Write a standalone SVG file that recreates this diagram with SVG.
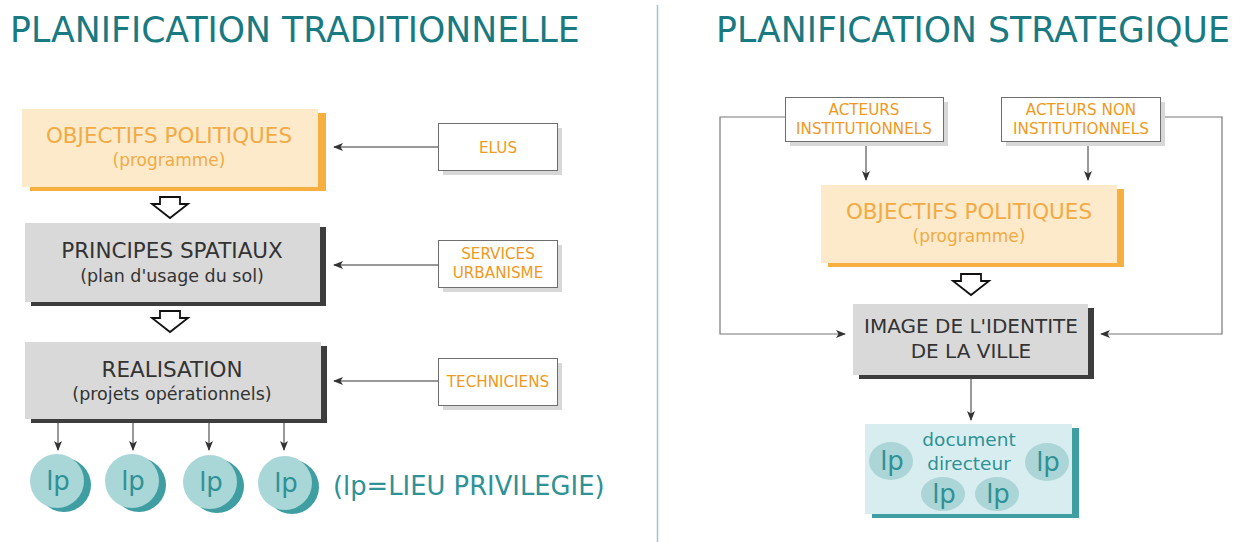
<svg xmlns="http://www.w3.org/2000/svg" width="1239" height="542" viewBox="0 0 1239 542">
<defs>
<style>
text{font-family:"DejaVu Sans","Liberation Sans",sans-serif;text-anchor:middle}
.title{font-size:34.7px;fill:#197a82;text-anchor:start}
.org{fill:#fdeacb}
.orgsh{fill:#f7b03f}
.gry{fill:#d9d9d9}
.grysh{fill:#3d3d3d}
.big-o{font-size:21.5px;fill:#f2aa45}
.sub-o{font-size:17px;fill:#f2aa45}
.big-g{font-size:21.5px;fill:#333}
.sub-g{font-size:17.5px;fill:#333}
.sbox{fill:#fff;stroke:#6e6e6e;stroke-width:1}
.sboxsh{fill:#d8d8d8}
.stxt{font-size:15.2px;fill:#f0991e}
.conn{fill:none;stroke:#333;stroke-width:1}
.loop{fill:none;stroke:#777;stroke-width:1.2}
.blk{fill:#fff;stroke:#111;stroke-width:1.8;stroke-linejoin:miter}
.lpc{fill:#a9d6d7}
.lpsh{fill:#3f9ea2}
.lpt{font-size:26px;fill:#2e9296}
.docbg{fill:#d8edef}
.docsh{fill:#3f9ea2}
.ell{fill:#acd5d7}
.doct{font-size:18.5px;fill:#2e9296}
</style>
<marker id="ah" markerWidth="10" markerHeight="8" refX="9" refY="4" orient="auto" markerUnits="userSpaceOnUse">
<path d="M0,0 L10,4 L0,8 L2.5,4 Z" fill="#333"/>
</marker>
</defs>
<rect width="1239" height="542" fill="#fff"/>

<text class="title" x="10" y="42">PLANIFICATION TRADITIONNELLE</text>
<text class="title" x="716" y="42">PLANIFICATION STRATEGIQUE</text>
<line x1="657.5" y1="5" x2="657.5" y2="542" stroke="#a3c3c6" stroke-width="1.5"/>

<g id="connectors">
<line class="conn" x1="438" y1="147" x2="334" y2="147" marker-end="url(#ah)"/>
<line class="conn" x1="438" y1="265" x2="334" y2="265" marker-end="url(#ah)"/>
<line class="conn" x1="438" y1="381" x2="334" y2="381" marker-end="url(#ah)"/>
<line class="conn" x1="58" y1="423" x2="58" y2="450" marker-end="url(#ah)"/>
<line class="conn" x1="133" y1="423" x2="133" y2="450" marker-end="url(#ah)"/>
<line class="conn" x1="209" y1="423" x2="209" y2="450" marker-end="url(#ah)"/>
<line class="conn" x1="284" y1="423" x2="284" y2="450" marker-end="url(#ah)"/>
<path class="blk" d="M160,197 H180 V204 H188 L170,218 L152,204 H160 Z"/>
<path class="blk" d="M160,311 H180 V318 H188 L170,332 L152,318 H160 Z"/>
<path class="blk" d="M961,274 H981 V281 H989 L971,295 L953,281 H961 Z"/>
<line class="conn" x1="866" y1="142" x2="866" y2="180" marker-end="url(#ah)"/>
<line class="conn" x1="1088" y1="142" x2="1088" y2="180" marker-end="url(#ah)"/>
<polyline class="loop" points="785,117 720,117 720,334 845,334" marker-end="url(#ah)"/>
<polyline class="loop" points="1160,117 1222,117 1222,334 1101,334" marker-end="url(#ah)"/>
<line class="conn" x1="971" y1="379" x2="971" y2="420" marker-end="url(#ah)"/>
</g>

<g id="obj-left">
<rect class="orgsh" x="30" y="113" width="296" height="78"/>
<rect class="org" x="22" y="109" width="296" height="78"/>
<text class="big-o" x="169" y="143">OBJECTIFS POLITIQUES</text>
<text class="sub-o" x="169" y="166">(programme)</text>
</g>

<g id="principes">
<rect class="grysh" x="31" y="227" width="295" height="79"/>
<rect class="gry" x="25" y="223" width="295" height="79"/>
<text class="big-g" x="172" y="258">PRINCIPES SPATIAUX</text>
<text class="sub-g" x="172" y="282">(plan d'usage du sol)</text>
</g>

<g id="realisation">
<rect class="grysh" x="31" y="346" width="296" height="77"/>
<rect class="gry" x="25" y="342" width="296" height="77"/>
<text class="big-g" x="172" y="377">REALISATION</text>
<text class="sub-g" x="172" y="400">(projets opérationnels)</text>
</g>

<g id="elus">
<rect class="sboxsh" x="443" y="128" width="119" height="47"/>
<rect class="sbox" x="438.5" y="123.5" width="119" height="47"/>
<text class="stxt" x="498" y="153">ELUS</text>
</g>

<g id="services">
<rect class="sboxsh" x="443" y="245" width="119" height="47"/>
<rect class="sbox" x="438.5" y="240.5" width="119" height="47"/>
<text class="stxt" x="498" y="259">SERVICES</text>
<text class="stxt" x="498" y="278">URBANISME</text>
</g>

<g id="techniciens">
<rect class="sboxsh" x="443" y="363" width="119" height="47"/>
<rect class="sbox" x="438.5" y="358.5" width="119" height="47"/>
<text class="stxt" x="498" y="387">TECHNICIENS</text>
</g>

<g id="lp1">
<circle class="lpsh" cx="64" cy="485" r="27"/>
<circle class="lpc" cx="57" cy="481" r="27"/>
<text class="lpt" x="58" y="490">lp</text>
</g>
<g id="lp2">
<circle class="lpsh" cx="139" cy="485" r="27"/>
<circle class="lpc" cx="132" cy="481" r="27"/>
<text class="lpt" x="133" y="490">lp</text>
</g>
<g id="lp3">
<circle class="lpsh" cx="217" cy="486" r="27"/>
<circle class="lpc" cx="210" cy="482" r="27"/>
<text class="lpt" x="211" y="491">lp</text>
</g>
<g id="lp4">
<circle class="lpsh" cx="292" cy="487" r="27"/>
<circle class="lpc" cx="285" cy="483" r="27"/>
<text class="lpt" x="286" y="492">lp</text>
</g>
<text x="333" y="495" style="font-size:25.8px;fill:#2e9296;text-anchor:start">(lp=LIEU PRIVILEGIE)</text>

<g id="acteurs-inst">
<rect class="sboxsh" x="790" y="102" width="158" height="44"/>
<rect class="sbox" x="785.5" y="97.5" width="158" height="44"/>
<text class="stxt" x="864" y="115">ACTEURS</text>
<text class="stxt" x="864" y="134">INSTITUTIONNELS</text>
</g>

<g id="acteurs-non">
<rect class="sboxsh" x="1006" y="102" width="159" height="44"/>
<rect class="sbox" x="1001.5" y="97.5" width="159" height="44"/>
<text class="stxt" x="1081" y="115">ACTEURS NON</text>
<text class="stxt" x="1081" y="134">INSTITUTIONNELS</text>
</g>

<g id="obj-right">
<rect class="orgsh" x="828" y="189" width="296" height="78"/>
<rect class="org" x="821" y="185" width="296" height="78"/>
<text class="big-o" x="969" y="219">OBJECTIFS POLITIQUES</text>
<text class="sub-o" x="969" y="242">(programme)</text>
</g>

<g id="image">
<rect class="grysh" x="859" y="308" width="235" height="71"/>
<rect class="gry" x="853" y="304" width="235" height="71"/>
<text x="971" y="333" style="font-size:20px;fill:#333">IMAGE DE L'IDENTITE</text>
<text x="971" y="358" style="font-size:20px;fill:#333">DE LA VILLE</text>
</g>

<g id="document">
<rect class="docsh" x="872" y="428" width="207" height="90"/>
<rect class="docbg" x="865" y="424" width="207" height="90"/>
<ellipse class="ell" cx="891" cy="461" rx="22" ry="19"/>
<ellipse class="ell" cx="1047" cy="462" rx="22" ry="19"/>
<ellipse class="ell" cx="943" cy="494" rx="22" ry="17"/>
<ellipse class="ell" cx="997" cy="494" rx="22" ry="17"/>
<text class="lpt" x="892" y="470">lp</text>
<text class="lpt" x="1048" y="471">lp</text>
<text class="lpt" x="944" y="503">lp</text>
<text class="lpt" x="998" y="503">lp</text>
<text class="doct" x="969" y="446">document</text>
<text class="doct" x="969" y="470">directeur</text>
</g>
</svg>
